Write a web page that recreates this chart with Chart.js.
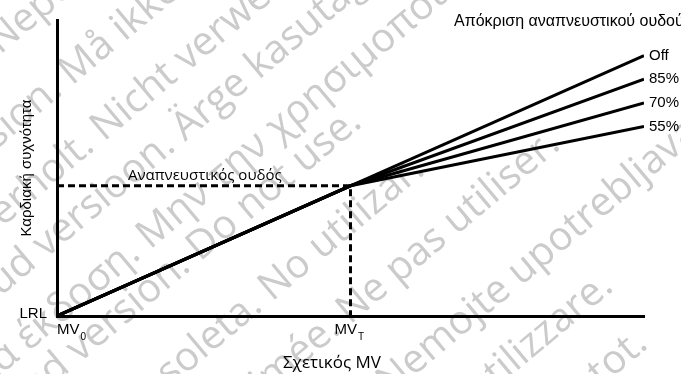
<!DOCTYPE html>
<html>
<head>
<meta charset="utf-8">
<script src="https://cdn.jsdelivr.net/npm/chart.js@4"></script>
<style>
  html, body { margin: 0; padding: 0; background: #fff; }
  canvas { display: block; }
</style>
</head>
<body>
<canvas id="rateChart" width="681" height="374"></canvas>
<script>
// relative minute ventilation: MV0, MVT, end of axis
const mvPoints = [0, 50, 100];
// heart rate at LRL and at the ventilatory threshold
const ratePoints = [0, 44];
// ventilatory threshold response settings, rate reached at the end of the MV axis
const responseNames = ['Off', '85%', '70%', '55%'];
const responseEndRate = [88, 80, 72, 64];

// background stamp: text, word placed at the point, x, y
const stampLines = [
    ['Zastaralá verze. Nepoužívat.', 'Nepoužívat', 0, 55],
    ['Forældet version. Må ikke anvendes.', 'Må', 72, 86],
    ['Version überholt. Nicht verwenden.', 'Nicht', 104, 142],
    ['Aegunud versioon. Ärge kasutage.', 'Ärge', 185, 142],
    ['Παλιά έκδοση. Μην την χρησιμοποιείτε.', 'Μην', 150, 250],
    ['Outdated version. Do not use.', 'Do', 200, 262],
    ['Versión obsoleta. No utilizar.', 'No', 272, 302],
    ['Version périmée. Ne pas utiliser.', 'Ne', 350, 325],
    ['Zastarjela verzija. Nemojte upotrebljavati.', 'emojte', 413, 377],
    ['Versione obsoleta. Non utilizzare.', 'are.', 560, 335],
    ['Novecojusi versija. Neizmantot.', 'ot.', 612, 378]
];

const ARIAL = '"Liberation Sans", Arial, sans-serif';
const HUMANIST = '"Open Sans", sans-serif';

function drawStamp(ctx) {
    ctx.save();
    ctx.fillStyle = '#cbcbcb';
    ctx.font = '40px ' + HUMANIST;
    ctx.textBaseline = 'alphabetic';
    ctx.textAlign = 'left';
    stampLines.forEach(([text, word, x, y]) => {
        const shift = ctx.measureText(text.slice(0, text.indexOf(word))).width;
        ctx.save();
        ctx.translate(x, y);
        ctx.rotate(-40 * Math.PI / 180);
        ctx.fillText(text, -shift, 0);
        ctx.restore();
    });
    ctx.restore();
}

// text with a small subscript after it
function subText(ctx, main, sub, x, y) {
    ctx.font = '15px ' + ARIAL;
    ctx.fillText(main, x, y);
    const w = ctx.measureText(main).width;
    ctx.font = '10px ' + ARIAL;
    ctx.fillText(sub, x + w + 1, y + 6);
}

const labelPlugin = {
    id: 'labelPlugin',
    beforeDraw(chart) {
        drawStamp(chart.ctx);
    },
    afterDatasetsDraw(chart) {
        const ctx = chart.ctx;
        const xs = chart.scales.x;
        const ys = chart.scales.y;
        const x0 = xs.getPixelForValue(mvPoints[0]);
        const xT = xs.getPixelForValue(mvPoints[1]);
        const y0 = ys.getPixelForValue(ratePoints[0]);
        const yT = ys.getPixelForValue(ratePoints[1]);

        ctx.save();
        ctx.fillStyle = '#000';

        // setting names at the end of each line
        ctx.font = '15px ' + ARIAL;
        ctx.textAlign = 'left';
        ctx.textBaseline = 'middle';
        responseNames.forEach((name, i) => {
            const pt = chart.getDatasetMeta(i + 1).data[2];
            ctx.fillText(name, pt.x + 5, pt.y);
        });

        ctx.textBaseline = 'alphabetic';
        ctx.font = '16px ' + ARIAL;
        ctx.fillText('Απόκριση αναπνευστικού ουδού', 454, 26);

        ctx.font = '15px ' + HUMANIST;
        ctx.fillText('Αναπνευστικός ουδός', x0 + 71, yT - 6);

        ctx.textAlign = 'right';
        ctx.font = '15px ' + ARIAL;
        ctx.fillText('LRL', x0 - 10, y0 + 2);

        ctx.textAlign = 'left';
        subText(ctx, 'MV', '0', x0, y0 + 18);
        subText(ctx, 'MV', 'T', xT - 16, y0 + 18);

        ctx.textAlign = 'center';
        ctx.font = '17px ' + HUMANIST;
        ctx.fillText('Σχετικός MV', 332, 368);

        // y axis title
        ctx.font = '15px ' + ARIAL;
        ctx.translate(31, (ys.top + ys.bottom) / 2);
        ctx.rotate(-Math.PI / 2);
        ctx.fillText('Καρδιακή συχνότητα', 0, 0);
        ctx.restore();
    }
};

const datasets = [{
    // threshold guide lines
    data: [
        { x: mvPoints[0], y: ratePoints[1] },
        { x: mvPoints[1], y: ratePoints[1] },
        { x: mvPoints[1], y: ratePoints[0] }
    ],
    borderDash: [7, 4],
    borderWidth: 3
}];
responseNames.forEach((name, i) => {
    datasets.push({
        label: name,
        data: [
            { x: mvPoints[0], y: ratePoints[0] },
            { x: mvPoints[1], y: ratePoints[1] },
            { x: mvPoints[2], y: responseEndRate[i] }
        ],
        borderWidth: 3
    });
});

const axisOpts = {
    type: 'linear',
    min: 0,
    max: 100,
    grid: { display: false, drawTicks: false, tickLength: 0 },
    ticks: { display: false },
    border: { display: true, color: '#000', width: 3 }
};

new Chart(document.getElementById('rateChart'), {
    type: 'line',
    data: { datasets: datasets },
    options: {
        responsive: false,
        animation: false,
        devicePixelRatio: 1,
        layout: { padding: { left: 57, top: 20, right: 37, bottom: 58 } },
        elements: {
            line: { borderColor: '#000', tension: 0, fill: false, borderCapStyle: 'butt' },
            point: { radius: 0, hoverRadius: 0 }
        },
        scales: { x: axisOpts, y: axisOpts },
        plugins: {
            legend: { display: false },
            tooltip: { enabled: false }
        }
    },
    plugins: [labelPlugin]
});
</script>
</body>
</html>
